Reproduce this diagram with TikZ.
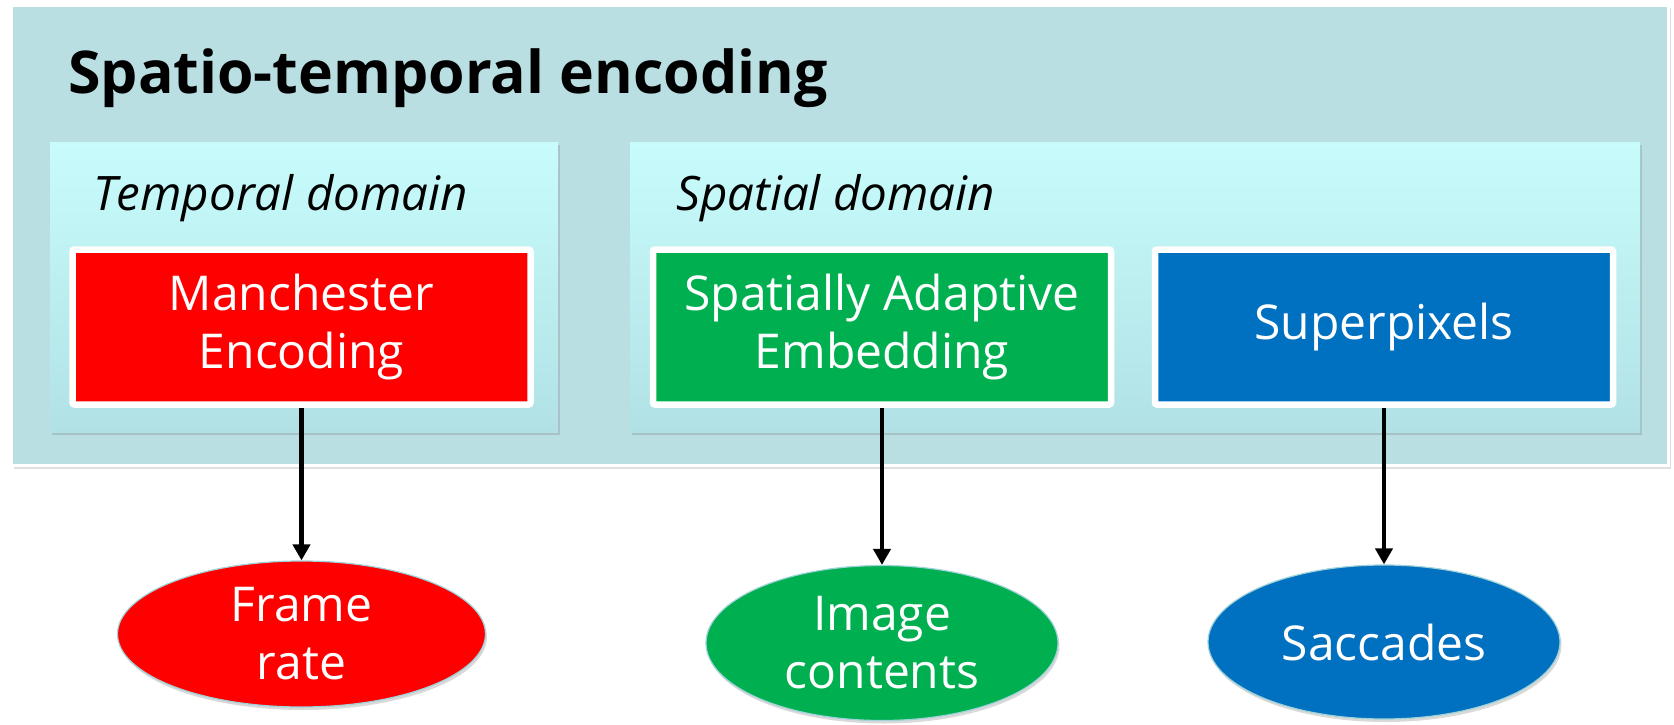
\documentclass[tikz,border=0pt]{standalone}
\usepackage{fontspec}
\setmainfont{Open Sans}
\usetikzlibrary{shapes.geometric,shadows,arrows.meta}
\definecolor{outerteal}{HTML}{B9DFE3}
\definecolor{domtop}{HTML}{C8FCFC}
\definecolor{dombot}{HTML}{B1E1E5}
\definecolor{encred}{HTML}{FF0000}
\definecolor{encgreen}{HTML}{00B050}
\definecolor{encblue}{HTML}{0070C0}
\definecolor{ellline}{HTML}{9FD3DA}
\begin{document}
\begin{tikzpicture}[x=1pt,y=-1pt,>={Triangle[length=16pt,width=17pt]},
	outer/.style={draw=white,line width=3pt,fill=outerteal,minimum width=1657pt,minimum height=460pt,inner sep=0pt,
		drop shadow={opacity=0.25,shadow xshift=2pt,shadow yshift=-3pt}},
	domain/.style={top color=domtop,bottom color=dombot,draw=none,minimum width=#1,minimum height=290pt,inner sep=0pt,
		drop shadow={opacity=0.3,shadow xshift=2pt,shadow yshift=-3pt}},
	dlabel/.style={anchor=base west,inner sep=0pt,font=\fontsize{47.5}{57}\selectfont\itshape},
	encbox/.style={fill=#1,draw=white,line width=6.5pt,rounded corners=2pt,text=white,align=center,
		minimum width=458pt,minimum height=155pt,inner sep=0pt,font=\fontsize{48}{58}\selectfont,
		drop shadow={opacity=0.3,shadow xshift=1.5pt,shadow yshift=-2pt}},
	result/.style={ellipse,fill=#1,draw=ellline,line width=1.2pt,text=white,align=center,inner sep=0pt,
		font=\fontsize{48}{58}\selectfont,drop shadow={opacity=0.3,shadow xshift=1.5pt,shadow yshift=-3pt}},
	link/.style={->,line width=4.5pt}]
	\useasboundingbox (0,0) rectangle (1674,725);
	\node[outer] (enc) at (840,235.5) {};
	\node[anchor=base west,inner sep=0pt,font=\fontsize{59}{70}\selectfont\bfseries] (title) at (68,94) {Spatio-temporal encoding};
	\node[domain=508pt] (tdom) at (304,287) {};
	\node[domain=1010pt] (sdom) at (1135,287) {};
	\node[dlabel] (tlab) at (93,210) {Temporal domain};
	\node[dlabel] (slab) at (676,210) {Spatial domain};
	\node[encbox=encred] (manch) at (301.5,327) {Manchester\\Encoding};
	\node[encbox=encgreen] (sae) at (882,327) {Spatially Adaptive\\Embedding};
	\node[encbox=encblue] (spix) at (1384,327) {Superpixels};
	\node[result=encred,minimum width=368pt,minimum height=146pt] (frate) at (301.5,634) {Frame\\rate};
	\node[result=encgreen,minimum width=352pt,minimum height=155pt] (imgc) at (882,643) {Image\\contents};
	\node[result=encblue,minimum width=352pt,minimum height=154pt] (sacc) at (1384,642) {Saccades};
	\draw[link] (manch.south) -- (frate.north);
	\draw[link] (sae.south) -- (imgc.north);
	\draw[link] (spix.south) -- (sacc.north);
\end{tikzpicture}
\end{document}
